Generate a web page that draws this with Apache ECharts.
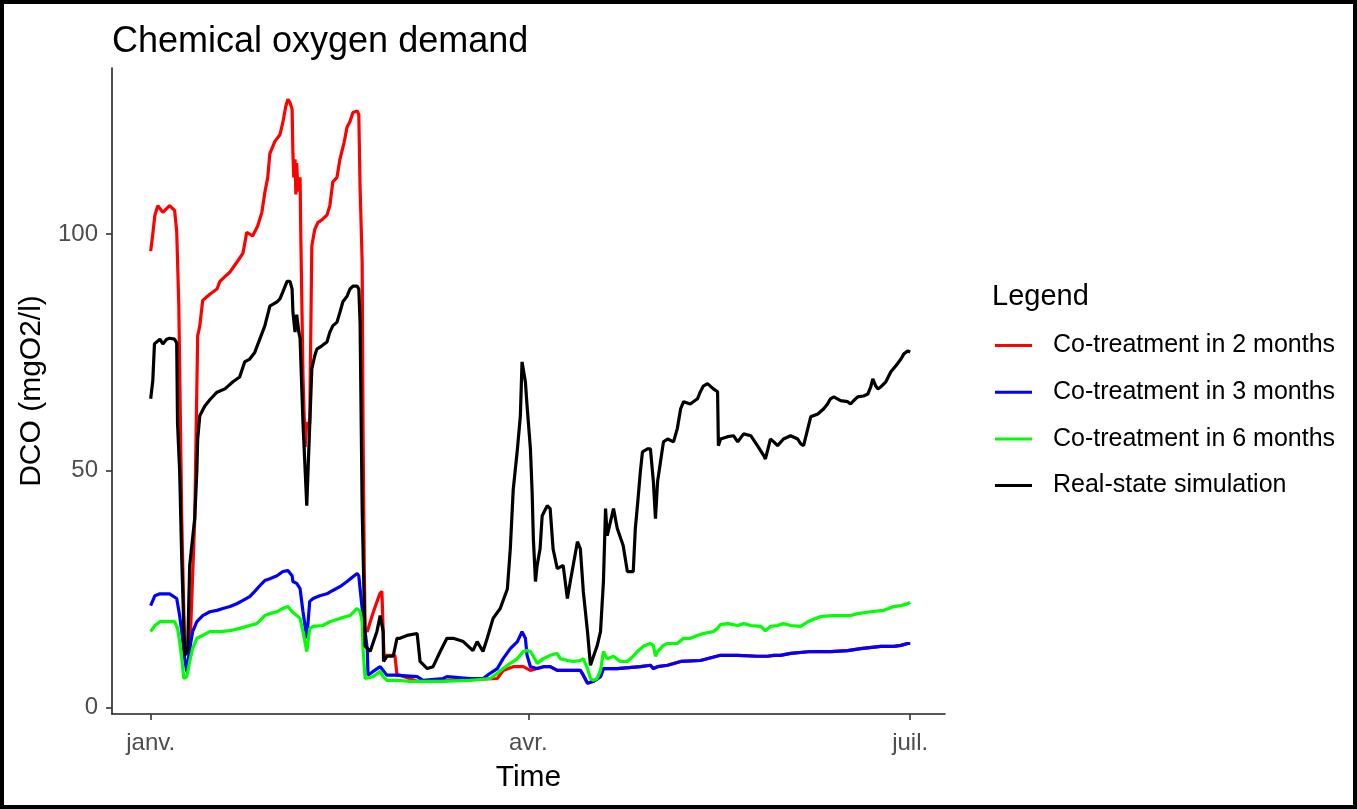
<!DOCTYPE html>
<html>
<head>
<meta charset="utf-8">
<title>Chemical oxygen demand</title>
<script src="https://cdn.jsdelivr.net/npm/echarts@6/dist/echarts.min.js"></script>
<style>
  html, body { margin: 0; padding: 0; background: #fff; }
  #wrap { position: relative; width: 1357px; height: 809px; }
  #chart { position: absolute; left: 0; top: 0; width: 1357px; height: 809px; }
  #frame { position: absolute; left: 0; top: 0; width: 1357px; height: 809px;
           box-sizing: border-box; border: 4px solid #000; pointer-events: none; }
</style>
</head>
<body>
<div id="wrap">
  <div id="chart"></div>
  <div id="frame"></div>
</div>
<script>
// Day of year (0 = 1 January) and COD value in mgO2/l for each scenario.
const coTreatment2Months = [
  [0, 96.4], [0.5, 100], [1, 104], [1.7, 106], [2.9, 104.6], [4.5, 106], [5.7, 105],
  [6.2, 100.6], [6.7, 85], [7.4, 40], [8.1, 12], [9.3, 11], [10.5, 40], [11.2, 78.5],
  [11.7, 80.6], [12.4, 86], [14.1, 87.3], [15.8, 88.4], [16.5, 90], [17.7, 91],
  [18.9, 92], [20.5, 94], [22, 96], [22.9, 100.4], [24.3, 99.6], [25.5, 101.7],
  [26.5, 104.6], [27.2, 108.8], [27.9, 112], [28.4, 117], [29.6, 119.6], [30.8, 121],
  [31.5, 123.6], [32.2, 127], [32.7, 128.5], [33.2, 127.8], [33.7, 126.4], [33.9, 117],
  [34.1, 112], [34.4, 115.8], [34.6, 108.4], [34.8, 115], [35.1, 109], [35.6, 112],
  [35.8, 98.3], [36.3, 70], [36.8, 55], [37.2, 60], [37.9, 60], [38.4, 97.5],
  [39.1, 101], [39.9, 102.5], [40.8, 103], [42, 104], [42.7, 106], [43.4, 111],
  [44.4, 112], [45.1, 115.8], [46.1, 119.4], [46.8, 122.6], [47.5, 123.8], [48.2, 125.7],
  [49.2, 126], [49.6, 125.3], [49.9, 110], [50.4, 94], [50.6, 60], [50.9, 30],
  [51.1, 16.7], [51.6, 16], [53, 20], [54.6, 24], [55.1, 24.5], [55.6, 11], [58.2, 11],
  [58.7, 6.8], [59.4, 6.8], [63.5, 5.5], [69, 5.5], [71.4, 5.7], [82.6, 6.1], [84, 7.8],
  [86.4, 8.6], [88.8, 8.6], [90.5, 7.8], [92.1, 8.2], [93.6, 8.6], [95.2, 8.6],
  [96.9, 7.8], [102.4, 7.8], [103.1, 6.8], [104.1, 5.1], [105.5, 5.5], [107.2, 6.5],
  [107.9, 8.2], [111.2, 8.2], [116.7, 8.6], [119.1, 8.9], [119.8, 8.2], [120.8, 8.6],
  [123.2, 8.9], [126.3, 9.7], [131, 9.9], [135.8, 11], [139.9, 11], [144.6, 10.8],
  [147, 10.8], [148.5, 11], [150.1, 11], [152.5, 11.4], [157.3, 11.8], [162, 11.8],
  [166.1, 12], [169.2, 12.4], [174, 12.9], [177.1, 12.9], [178.8, 13.1], [180.4, 13.5],
  [181, 13.5]
];

const coTreatment3Months = [
  [0, 21.5], [1, 23.6], [2.2, 24], [4.5, 24], [6.2, 23], [6.9, 19.4], [7.4, 16],
  [8.1, 10.3], [8.6, 7.6], [9.3, 12.4], [10, 16], [11, 18.1], [12.4, 19.4], [14.1, 20.2],
  [15.8, 20.5], [17.2, 20.9], [18.9, 21.3], [20.5, 21.9], [22, 22.6], [23.6, 23.4],
  [24.8, 24.5], [26, 25.7], [27.2, 26.8], [28.4, 27.2], [30.1, 27.8], [31.5, 28.7],
  [32.7, 28.9], [33.7, 27.8], [33.9, 26.6], [34.8, 26.2], [35.6, 25.1], [36.3, 20.2],
  [37.2, 14.6], [37.9, 22.4], [38.7, 23], [40.3, 23.6], [42, 24], [43.4, 24.7],
  [45.1, 25.5], [46.8, 26.6], [48.2, 27.6], [49.2, 28.3], [49.6, 27.8], [49.9, 25.1],
  [50.4, 20.9], [51.1, 16], [51.6, 12.4], [51.8, 6.8], [53, 7.6], [54.7, 8.6],
  [55.4, 7.8], [56.3, 6.8], [58.2, 6.8], [63.5, 6.5], [64.9, 5.7], [69.7, 6.1],
  [70.6, 6.5], [76.1, 6.1], [79.2, 6.1], [80.9, 7.2], [82.6, 8.2], [84, 10.3],
  [85.7, 12.4], [87.4, 13.9], [88.5, 16], [89.3, 14.6], [89.7, 11], [90.5, 8.6],
  [92.1, 8.2], [93.6, 8.6], [95.2, 8.6], [96.9, 7.8], [102.4, 7.8], [103.1, 6.8],
  [104.1, 5.1], [105.5, 5.5], [107.2, 6.5], [107.9, 8.2], [111.2, 8.2], [116.7, 8.6],
  [119.1, 8.9], [119.8, 8.2], [120.8, 8.6], [123.2, 8.9], [126.3, 9.7], [131, 9.9],
  [135.8, 11], [139.9, 11], [144.6, 10.8], [147, 10.8], [148.5, 11], [150.1, 11],
  [152.5, 11.4], [157.3, 11.8], [162, 11.8], [166.1, 12], [169.2, 12.4], [174, 12.9],
  [177.1, 12.9], [178.8, 13.1], [180.4, 13.5], [181, 13.5]
];

const coTreatment6Months = [
  [0, 16], [1, 17.3], [2.2, 18.1], [5.7, 18.1], [6.4, 16.7], [6.9, 13.9], [7.4, 10.3],
  [7.9, 6.1], [8.6, 6.5], [9.3, 9.7], [10, 12.4], [11, 14.6], [12.4, 15.2], [14.1, 16],
  [16.5, 16], [18.9, 16.2], [21.2, 16.7], [23.6, 17.3], [25.3, 17.7], [27.2, 19.4],
  [28.4, 19.8], [30.1, 20.2], [31.5, 20.9], [32.7, 21.3], [33.7, 20.2], [34.8, 19.4],
  [35.6, 18.8], [36.3, 16], [37.2, 11.8], [37.9, 16.7], [38.7, 17.1], [41, 17.3],
  [42.7, 18.1], [45.1, 18.8], [47.5, 19.4], [49.2, 20.9], [49.9, 20.2], [50.4, 18.1],
  [50.6, 12.4], [51.1, 6.1], [53, 6.5], [54.7, 7.6], [55.4, 6.5], [56.3, 5.7],
  [58.7, 5.7], [61.8, 5.5], [69, 5.5], [76.1, 5.7], [80.9, 6.1], [82.6, 7.2],
  [84, 8.2], [85.7, 9.3], [87.4, 10.3], [88.8, 11.8], [89.7, 12], [90.5, 11.8],
  [91.2, 10.8], [92.1, 9.3], [93.6, 10.3], [95.2, 11], [96.9, 11.4], [97.6, 10.3],
  [99.3, 9.9], [100.7, 9.7], [102.4, 9.9], [103.1, 10.3], [104.1, 8.2], [104.8, 6.1],
  [105.5, 5.7], [106.4, 6.1], [107.2, 7.8], [107.9, 11.8], [108.8, 10.3], [110.3, 10.8],
  [111.9, 9.7], [113.6, 9.7], [115, 10.8], [116, 11.8], [117.4, 12.9], [119.1, 13.5],
  [119.8, 13.1], [120.3, 10.8], [120.8, 11.8], [122.2, 13.1], [123.2, 13.5],
  [125.5, 13.5], [127, 14.6], [128.6, 14.6], [130.3, 15.2], [131.7, 15.6], [134.1, 16],
  [135.1, 16.7], [135.8, 17.5], [137.5, 17.7], [139.9, 17.3], [141.3, 17.7], [143, 17.3],
  [145.4, 17.1], [146.5, 16.2], [147.7, 17.1], [149.4, 17.3], [150.8, 17.7],
  [152.5, 17.3], [154.9, 17.1], [156.6, 18.1], [158, 18.6], [159.7, 19.2],
  [162.8, 19.4], [166.8, 19.4], [168.5, 19.8], [171.6, 20.2], [174.7, 20.5],
  [177.1, 21.3], [178.8, 21.5], [180.4, 21.9], [181, 22.2]
];

const realStateSimulation = [
  [0, 65.2], [0.5, 69], [0.9, 76.8], [2.2, 77.8], [2.9, 76.8], [3.8, 77.8], [4.5, 78],
  [5.7, 77.8], [6.2, 77], [6.4, 60], [6.9, 50], [7.4, 31.4], [8.1, 11], [8.8, 12],
  [9.3, 30], [10.5, 40], [11, 50], [11.2, 56.7], [11.7, 61.6], [12.9, 63.7], [14.1, 65],
  [15.8, 66.6], [17.7, 67.3], [19.6, 68.8], [21.2, 69.8], [22.4, 73], [23.6, 73.6],
  [24.8, 75], [26, 77.8], [27.2, 80.6], [28.4, 84.8], [30.1, 85.7], [30.8, 86.3],
  [31.5, 87.8], [32.5, 90], [33.2, 90], [33.7, 88.4], [33.9, 83.5], [34.4, 79.3],
  [34.8, 83], [35.3, 79.3], [35.6, 78], [36.3, 60], [37.2, 42.6], [37.5, 50],
  [38.4, 71.5], [39.1, 74.3], [39.6, 75.7], [40.8, 76.4], [42, 77.2], [42.7, 79.3],
  [43.4, 80.6], [44.4, 81.4], [45.1, 83.5], [45.8, 85.7], [46.8, 86.9], [47.5, 88.4],
  [48.2, 89], [49.2, 89], [49.6, 88.4], [49.9, 81.4], [50.4, 42], [51.1, 13],
  [52.3, 11.8], [53.9, 16], [54.7, 19.4], [55.4, 16], [55.5, 9.7], [56.3, 10.8],
  [57.8, 10.8], [58.7, 14.6], [59.4, 14.6], [61.1, 15.2], [63.5, 15.6], [64.2, 9.7],
  [65.9, 8.2], [67.3, 8.6], [69, 11.8], [70.6, 14.6], [72.1, 14.6], [74.5, 13.9],
  [76.8, 12], [77.8, 13.9], [79.2, 11.8], [80.2, 14.6], [81.6, 18.8], [83.3, 20.9],
  [85, 25], [85.7, 33.5], [86.4, 46], [87.4, 54.6], [88.1, 61.6], [88.5, 73],
  [89.3, 68.8], [89.7, 63.7], [90.5, 54.6], [90.9, 45.6], [91.2, 35.6], [91.7, 26.6],
  [92.1, 30], [92.8, 33.5], [93.3, 40.5], [94.5, 42.6], [95.2, 42], [95.9, 33.5],
  [96.9, 29.3], [98.3, 30], [99.3, 23], [100, 26.6], [101.7, 35], [102.4, 33.5],
  [103.1, 24.5], [104.1, 16], [104.8, 8.9], [106.4, 13], [107.2, 16], [107.9, 26.6],
  [108.4, 42], [108.8, 36.3], [110.3, 42], [111.2, 37.8], [112.6, 34.2], [113.6, 28.7],
  [115, 28.7], [115.5, 37.8], [116, 42.6], [116.7, 49.8], [117.2, 54], [118.4, 54.6],
  [119.1, 54.6], [119.8, 47.7], [120.3, 39.9], [120.8, 47.7], [121.5, 51.9],
  [122.2, 56.1], [123.2, 56.7], [124.6, 56.1], [125.5, 58.9], [126.3, 63.1], [127, 64.6],
  [128.6, 64.1], [130.3, 65.2], [131, 66.7], [131.7, 67.9], [132.7, 68.4], [134.1, 67.3],
  [135.1, 66.7], [135.3, 55.3], [135.8, 56.7], [137.5, 57.2], [138.9, 57.4],
  [139.9, 56.1], [141.3, 57.8], [143, 57.4], [144.6, 55.3], [146.1, 53.2], [146.5, 52.5],
  [147.7, 56.7], [148.5, 56.1], [149.4, 55.3], [150.8, 56.7], [152.5, 57.4],
  [154.2, 56.7], [154.9, 55.7], [155.6, 55.3], [156.6, 58.9], [157.3, 61.4], [159, 62],
  [160.4, 63.1], [161.3, 64.1], [162, 65.2], [162.8, 65.6], [164.4, 64.8], [166.1, 64.6],
  [166.8, 64.1], [167.5, 64.8], [168.5, 65.6], [169.9, 65.8], [170.9, 66.2],
  [171.6, 67.7], [172.1, 69.4], [172.8, 67.9], [173.3, 67.3], [174, 67.7], [175.2, 68.8],
  [176.4, 70.9], [177.6, 72.2], [178.8, 73.6], [179.5, 74.7], [180.4, 75.3], [181, 75.1]
];

// Axis ticks: first day of January, April and July; COD every 50 mgO2/l.
const monthTickDays = [0, 90, 181];
const monthTickLabels = ['janv.', 'avr.', 'juil.'];
const codTicks = [0, 50, 100];

const seriesNames = [
  'Co-treatment in 2 months',
  'Co-treatment in 3 months',
  'Co-treatment in 6 months',
  'Real-state simulation'
];
const seriesColors = ['#ff0000', '#0000ff', '#00ff00', '#000000'];
const seriesData = [coTreatment2Months, coTreatment3Months, coTreatment6Months, realStateSimulation];

const FONT = '"Liberation Sans", Arial, sans-serif';

const chart = echarts.init(document.getElementById('chart'), null, { renderer: 'canvas' });

chart.setOption({
  animation: false,
  backgroundColor: '#ffffff',
  textStyle: { fontFamily: FONT },
  title: [
    {
      text: 'Chemical oxygen demand',
      left: 112, top: 24, padding: 0,
      textStyle: { fontFamily: FONT, fontSize: 36, fontWeight: 'normal', color: '#000', lineHeight: 36 }
    },
    {
      text: 'Legend',
      left: 992, top: 282, padding: 0,
      textStyle: { fontFamily: FONT, fontSize: 29, fontWeight: 'normal', color: '#000', lineHeight: 29 }
    }
  ],
  legend: {
    orient: 'vertical',
    left: 995, top: 333,
    padding: 0,
    itemWidth: 37, itemHeight: 3,
    itemGap: 21.7,
    icon: 'rect',
    data: seriesNames,
    selectedMode: false,
    textStyle: { fontFamily: FONT, fontSize: 25, color: '#000', lineHeight: 25, padding: [0, 0, 0, 16] }
  },
  grid: { left: 112, top: 68, width: 833, height: 646, containLabel: false, outerBoundsMode: 'none' },
  xAxis: {
    type: 'value',
    min: -9.22, max: 189.3,
    name: 'Time',
    nameLocation: 'middle',
    nameGap: 49,
    nameTextStyle: { fontFamily: FONT, fontSize: 30, color: '#000' },
    splitLine: { show: false },
    axisLine: { show: true, onZero: false, lineStyle: { color: '#222', width: 1.6 } },
    axisTick: { show: true, length: 6, customValues: monthTickDays, lineStyle: { color: '#333', width: 1.6 } },
    axisLabel: {
      show: true, margin: 17, fontSize: 24, color: '#4d4d4d', fontFamily: FONT,
      customValues: monthTickDays,
      formatter: function (v) {
        const i = monthTickDays.indexOf(v);
        return i >= 0 ? monthTickLabels[i] : '';
      }
    }
  },
  yAxis: {
    type: 'value',
    min: -1.4, max: 135.1,
    name: 'DCO (mgO2/l)',
    nameLocation: 'middle',
    nameGap: 58,
    nameRotate: 90,
    nameTextStyle: { fontFamily: FONT, fontSize: 30, color: '#000' },
    splitLine: { show: false },
    axisLine: { show: true, onZero: false, lineStyle: { color: '#222', width: 1.6 } },
    axisTick: { show: true, length: 6, customValues: codTicks, lineStyle: { color: '#333', width: 1.6 } },
    axisLabel: {
      show: true, margin: 14, fontSize: 24, color: '#4d4d4d', fontFamily: FONT,
      customValues: codTicks
    }
  },
  series: seriesNames.map(function (name, i) {
    return {
      name: name,
      type: 'line',
      data: seriesData[i],
      showSymbol: false,
      symbol: 'none',
      z: 2 + i,
      color: seriesColors[i],
      lineStyle: { color: seriesColors[i], width: 3.2 },
      itemStyle: { color: seriesColors[i] }
    };
  })
});
</script>
</body>
</html>
